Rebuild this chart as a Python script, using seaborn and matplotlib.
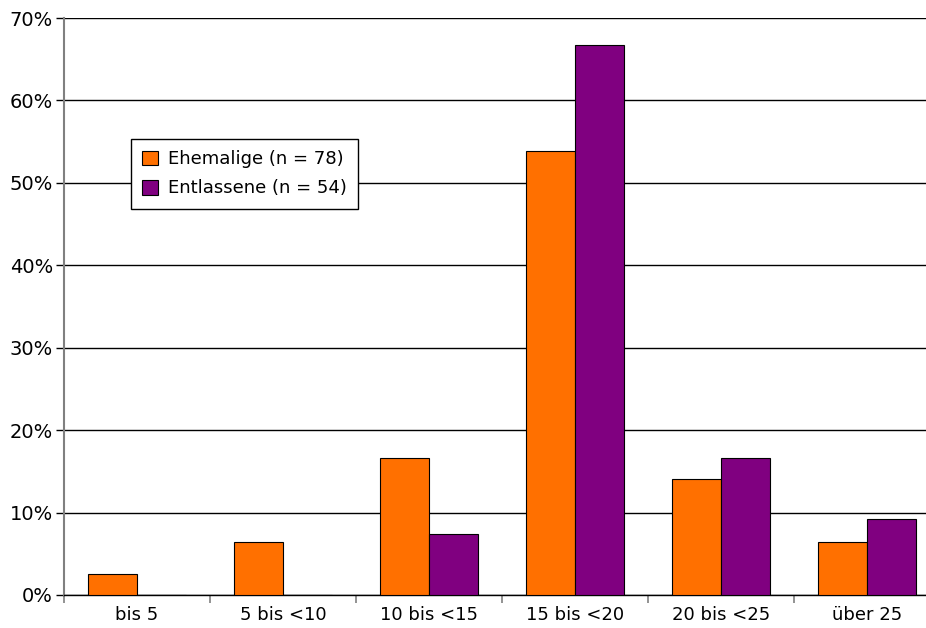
import matplotlib
matplotlib.use("Agg")
import matplotlib.pyplot as plt
import seaborn as sns
import pandas as pd
from matplotlib.ticker import FuncFormatter, FixedLocator

categories = ["bis 5", "5 bis <10", "10 bis <15", "15 bis <20", "20 bis <25", "über 25"]
ehemalige = [2 / 78 * 100, 5 / 78 * 100, 13 / 78 * 100, 42 / 78 * 100, 11 / 78 * 100, 5 / 78 * 100]
entlassene = [0.0, 0.0, 4 / 54 * 100, 36 / 54 * 100, 9 / 54 * 100, 5 / 54 * 100]
series_names = ["Ehemalige (n = 78)", "Entlassene (n = 54)"]
colors = ["#FF7000", "#800080"]

df = pd.DataFrame({
    "Kategorie": categories * 2,
    "Anteil": ehemalige + entlassene,
    "Gruppe": [series_names[0]] * len(categories) + [series_names[1]] * len(categories),
})

sns.set_theme(style="white")
plt.rcParams["font.family"] = ["DejaVu Sans"]
plt.rcParams["text.color"] = "black"
plt.rcParams["xtick.color"] = "black"
plt.rcParams["ytick.color"] = "black"
plt.rcParams["xtick.labelcolor"] = "black"
plt.rcParams["ytick.labelcolor"] = "black"

fig = plt.figure(figsize=(9.26, 6.28), dpi=100)
# the plot area runs slightly past the right edge of the figure
ax = fig.add_axes([64 / 926, 33 / 628, 876 / 926, 577 / 628])

sns.barplot(data=df, x="Kategorie", y="Anteil", hue="Gruppe", order=categories,
            hue_order=series_names, palette=colors, width=0.67, gap=0,
            edgecolor="black", linewidth=0.8, saturation=1, ax=ax, zorder=3)

ax.set_ylim(0, 70)
ax.set_xlim(-0.5, len(categories) - 0.5)
ax.set_yticks(range(0, 71, 10))
ax.yaxis.set_major_formatter(FuncFormatter(lambda v, p: f"{int(v)}%"))
ax.yaxis.grid(True, color="black", linewidth=1.0, zorder=0)
ax.set_axisbelow(True)

ax.set_xlabel("")
ax.set_ylabel("")
ax.tick_params(axis="x", which="major", length=0, labelsize=13, pad=8, labelcolor="black")
ax.xaxis.set_minor_locator(FixedLocator([i - 0.5 for i in range(len(categories) + 1)]))
ax.tick_params(axis="x", which="minor", length=6, width=1.2, color="#808080", direction="out")
ax.tick_params(axis="y", length=6, width=1.0, color="black", direction="out", labelsize=14,
               pad=2, labelcolor="black")
ax.xaxis.set_ticks_position("bottom")
ax.yaxis.set_ticks_position("left")

for s in ["top", "right"]:
    ax.spines[s].set_visible(False)
ax.spines["left"].set_color("#808080")
ax.spines["left"].set_linewidth(1.5)
ax.spines["bottom"].set_color("black")
ax.spines["bottom"].set_linewidth(1.0)

leg = ax.legend(loc="upper left", bbox_to_anchor=(131 / 926, 1 - 139 / 628),
                bbox_transform=fig.transFigure, frameon=True, fancybox=False,
                fontsize=13, handlelength=0.89, handleheight=0.89, handletextpad=0.55,
                borderpad=0.62, labelspacing=0.62, borderaxespad=0)
leg.get_frame().set_edgecolor("black")
leg.get_frame().set_linewidth(1.0)
leg.get_frame().set_facecolor("white")
leg.get_frame().set_alpha(1)
for t in leg.get_texts():
    t.set_color("black")

fig.savefig("out.png", dpi=100, facecolor="white")
